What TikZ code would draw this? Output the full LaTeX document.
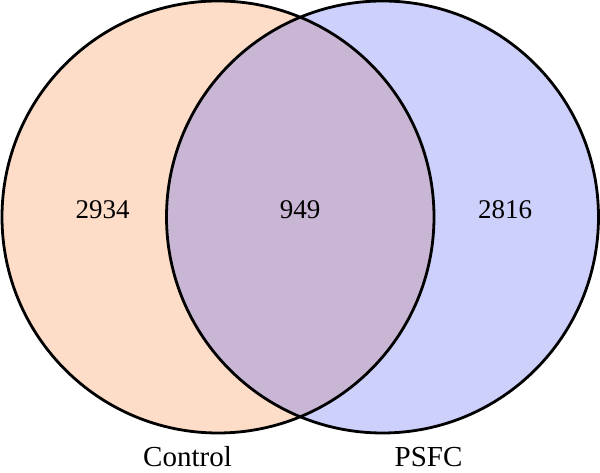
\documentclass[tikz,border=0pt]{standalone}
\usepackage{fontspec}
\setmainfont{Liberation Serif}
\definecolor{peach}{RGB}{253,221,200}
\definecolor{lav}{RGB}{204,208,250}
\definecolor{overlap}{RGB}{201,182,213}
\tikzset{
  setcircle/.style={circle, draw=black, line width=2.8pt, minimum size=432pt, inner sep=0pt},
  count/.style={font=\fontsize{27}{30}\selectfont, text=black, anchor=base, inner sep=0pt},
  setlabel/.style={font=\fontsize{29}{32}\selectfont, text=black, anchor=base, inner sep=0pt}
}
\begin{document}
\begin{tikzpicture}[x=1pt,y=1pt]
\useasboundingbox (0,0) rectangle (600,473);
\fill[white] (0,0) rectangle (600,473);
% fills
\fill[peach] (218,256) circle (216);
\fill[lav] (382.5,256) circle (216);
\begin{scope}
  \clip (218,256) circle (216);
  \fill[overlap] (382.5,256) circle (216);
\end{scope}
% outlines as named nodes
\node[setcircle] (ctrl) at (218,256) {};
\node[setcircle] (psfc) at (382.5,256) {};
% counts
\node[count] (n1) at (102.5,254) {2934};
\node[count] (n12) at (300,254) {949};
\node[count] (n2) at (505,254) {2816};
% labels
\node[setlabel] (l1) at (187.5,6) {Control};
\node[setlabel] (l2) at (428.5,6) {PSFC};
\end{tikzpicture}
\end{document}
